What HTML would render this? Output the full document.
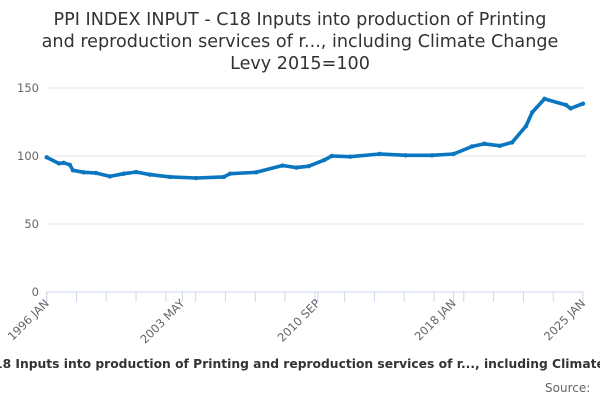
<!DOCTYPE html>
<html><head><meta charset="utf-8"><style>
body{margin:0;background:#fff;font-family:"Liberation Sans","DejaVu Sans",sans-serif}
#wrap{position:relative;width:600px;height:400px;overflow:hidden}
</style></head><body>
<div id="wrap">
<svg id="chart" width="600" height="400">
<g font-size="17.6" fill="#333" text-anchor="middle" font-family="DejaVu Sans, Liberation Sans, sans-serif">
<text x="300" y="25">PPI INDEX INPUT - C18 Inputs into production of Printing</text>
<text x="300" y="47">and reproduction services of r..., including Climate Change</text>
<text x="300" y="69">Levy 2015=100</text>
</g>
<g id="grid"></g>
<g id="yticks"></g>
<g id="xaxis"></g>
<g id="series"></g>
<text x="-15" y="368" text-anchor="start" font-size="12.3" font-weight="bold" fill="#333" font-family="DejaVu Sans, Liberation Sans, sans-serif">C18 Inputs into production of Printing and reproduction services of r..., including Climate Change Levy 2015=100</text>
</svg>
<div style="position:absolute;left:545px;top:381px;font-size:12px;color:#666;font-family:'DejaVu Sans','Liberation Sans',sans-serif">Source:</div>
</div>
<script>
const dates=["1996-01","1996-09","1996-12","1997-04","1997-06","1998-01","1998-09","1999-06","2000-03","2000-11","2001-08","2002-09","2004-02","2005-08","2005-12","2007-05","2008-10","2009-07","2010-03","2011-01","2011-06","2012-06","2014-01","2015-06","2016-11","2018-01","2019-01","2019-09","2020-07","2021-03","2021-12","2022-04","2022-12","2024-02","2024-05","2025-01"];
const values=[99,94.5,95,93.5,89.5,88,87.5,85,87,88.2,86.3,84.6,83.8,84.6,87,88,93,91.5,92.5,97,100,99.5,101.5,100.5,100.5,101.5,107,109,107.5,110,122,132,142,137.5,135,138.5];
const yTicks=[0,50,100,150];
const xLabels=["1996 JAN","2003 MAY","2010 SEP","2018 JAN","2025 JAN"];
const NS="http://www.w3.org/2000/svg";
const x0=46.7,x1=583,y0=292,yTop=88;
function mIdx(s){const p=s.split(/[- ]/);const mo=isNaN(+p[1])?["JAN","FEB","MAR","APR","MAY","JUN","JUL","AUG","SEP","OCT","NOV","DEC"].indexOf(p[1])+1:+p[1];return (+p[0]-1996)*12+mo-1;}
const totalM=mIdx("2025-01");
function xS(s){return x0+mIdx(s)/totalM*(x1-x0);}
function yS(v){return y0-v/150*(y0-yTop);}
function mk(t,a,parent){const e=document.createElementNS(NS,t);for(const k in a)e.setAttribute(k,a[k]);parent.appendChild(e);return e;}
const grid=document.getElementById('grid'),yt=document.getElementById('yticks'),xa=document.getElementById('xaxis'),se=document.getElementById('series');
yTicks.forEach(v=>{
 if(v>0){const l=mk('line',{x1:x0,x2:x1+3,y1:yS(v),y2:yS(v),stroke:'#e6e6e6'},grid);
 
 }
 const t=mk('text',{x:39,y:yS(v)+4,'text-anchor':'end','font-size':11.5,fill:'#666','font-family':'DejaVu Sans, Liberation Sans, sans-serif'},yt);
 t.textContent=v;
 
 
});
const al=mk('line',{x1:x0,x2:x1,y1:y0,y2:y0,stroke:'#ccd6eb'},xa);


for(let i=0;i<=18;i++){const x=x0+i*(x1-x0)/18;mk('line',{x1:x,x2:x,y1:y0,y2:y0+10,stroke:'#ccd6eb'},xa);}
xLabels.forEach(s=>{const x=xS(s);
 mk('line',{x1:x,x2:x,y1:y0,y2:y0+10,stroke:'#ccd6eb'},xa);
 const t=mk('text',{x:x+3,y:y0+12,'text-anchor':'end','font-size':11.5,fill:'#666','font-family':'DejaVu Sans, Liberation Sans, sans-serif',transform:`rotate(-45 ${x+3} ${y0+12})`},xa);
 t.textContent=s;
 
 
});
const pts=dates.map((d,i)=>xS(d).toFixed(1)+','+yS(values[i]).toFixed(1)).join(' ');
const pl=mk('polyline',{points:pts,fill:'none',stroke:'#0a76bf','stroke-width':3.6,'stroke-linejoin':'round','stroke-linecap':'round'},se);


dates.forEach((d,i)=>{const c=mk('circle',{cx:xS(d),cy:yS(values[i]),r:2.2,fill:'#0a76bf'},se);
 
 });
</script>
</body></html>
